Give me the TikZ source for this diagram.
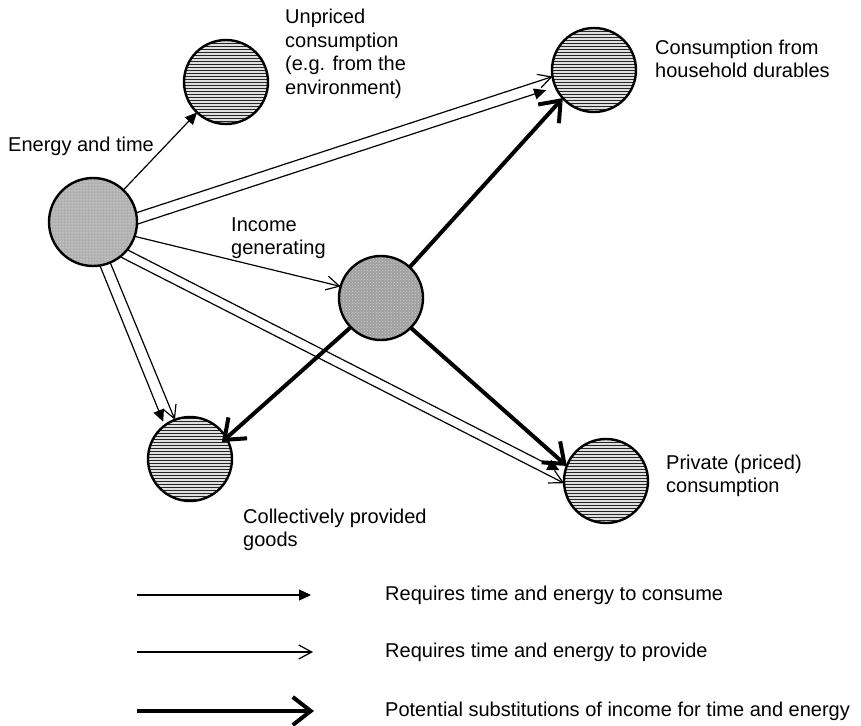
\documentclass[tikz,border=0pt]{standalone}
\usepackage{fontspec}
\setmainfont{Liberation Sans}
\usetikzlibrary{arrows.meta,patterns}
\begin{document}
\begin{tikzpicture}[x=1pt,y=-1pt,
  ball/.style={circle,draw,line width=2.4pt,minimum size=84pt,inner sep=0pt,outer sep=0pt},
  dotball/.style={ball,minimum size=88pt,preaction={fill=gray!62},pattern=dots,pattern color=white},
  checkball/.style={ball,preaction={fill=gray!75},pattern=crosshatch dots,pattern color=gray!35},
  lineball/.style={ball,preaction={fill=gray!25},pattern=horizontal lines,pattern color=black!85},
  consume/.style={line width=1.2pt,-{Triangle[length=12pt,width=11pt]}},
  provide/.style={line width=1.2pt,-{Straight Barb[length=13pt,width=14pt]}},
  subst/.style={line width=4pt,-{Straight Barb[length=18pt,width=28pt]}},
  lbl/.style={font=\fontsize{20}{23.5}\selectfont,align=left,anchor=west,inner sep=0pt},
]
\useasboundingbox (0,0) rectangle (861,725);

% circles
\node[dotball]   (E) at (93,222) {};
\node[lineball]  (U) at (226,82) {};
\node[lineball]  (D) at (594,70) {};
\node[checkball] (I) at (381,298) {};
\node[lineball]  (C) at (190,459) {};
\node[lineball]  (P) at (606,481) {};

% labels
\node[lbl] (tU) at (285,54) {Unpriced\\consumption\\(e.g. from the\\environment)};
\node[lbl] (tD) at (655,59) {Consumption from\\household durables};
\node[lbl] (tE) at (8,146) {Energy and time};
\node[lbl] (tI) at (231,238) {Income\\generating};
\node[lbl] (tC) at (243,530) {Collectively provided\\goods};
\node[lbl] (tP) at (666,476) {Private (priced)\\consumption};

% connectors from energy and time
\draw[consume] (E) -- (U);
\draw[provide] (E.12) -- (D.189);
\draw[consume,shorten >=10pt] (E.-3) -- (D.204);
\draw[provide] (E.-19) -- (I.164);
\draw[consume,shorten >=6pt] (E.-39) -- (P.169);
\draw[provide] (E.-52) -- (P.183);
\draw[provide] (E.-67) -- (C.111);
\draw[consume,shorten >=4pt] (E.-81) -- (C.127);

% substitutions
\draw[subst] (I.47) -- (D.222);
\draw[subst,shorten >=-6pt] (I.224) -- (C.30);
\draw[subst] (I.-45) -- (P.159);

% legend
\coordinate (a1) at (137,595);
\coordinate (b1) at (311,595);
\coordinate (a2) at (137,652);
\coordinate (b2) at (313,652);
\coordinate (a3) at (137,711);
\coordinate (b3) at (314,711);
\draw[consume] (a1) -- (b1);
\draw[provide] (a2) -- (b2);
\draw[subst] (a3) -- (b3);
\node[lbl] (t1) at (385,595) {Requires time and energy to consume};
\node[lbl] (t2) at (385,652) {Requires time and energy to provide};
\node[lbl] (t3) at (385,711) {Potential substitutions of income for time and energy};
\end{tikzpicture}
\end{document}
